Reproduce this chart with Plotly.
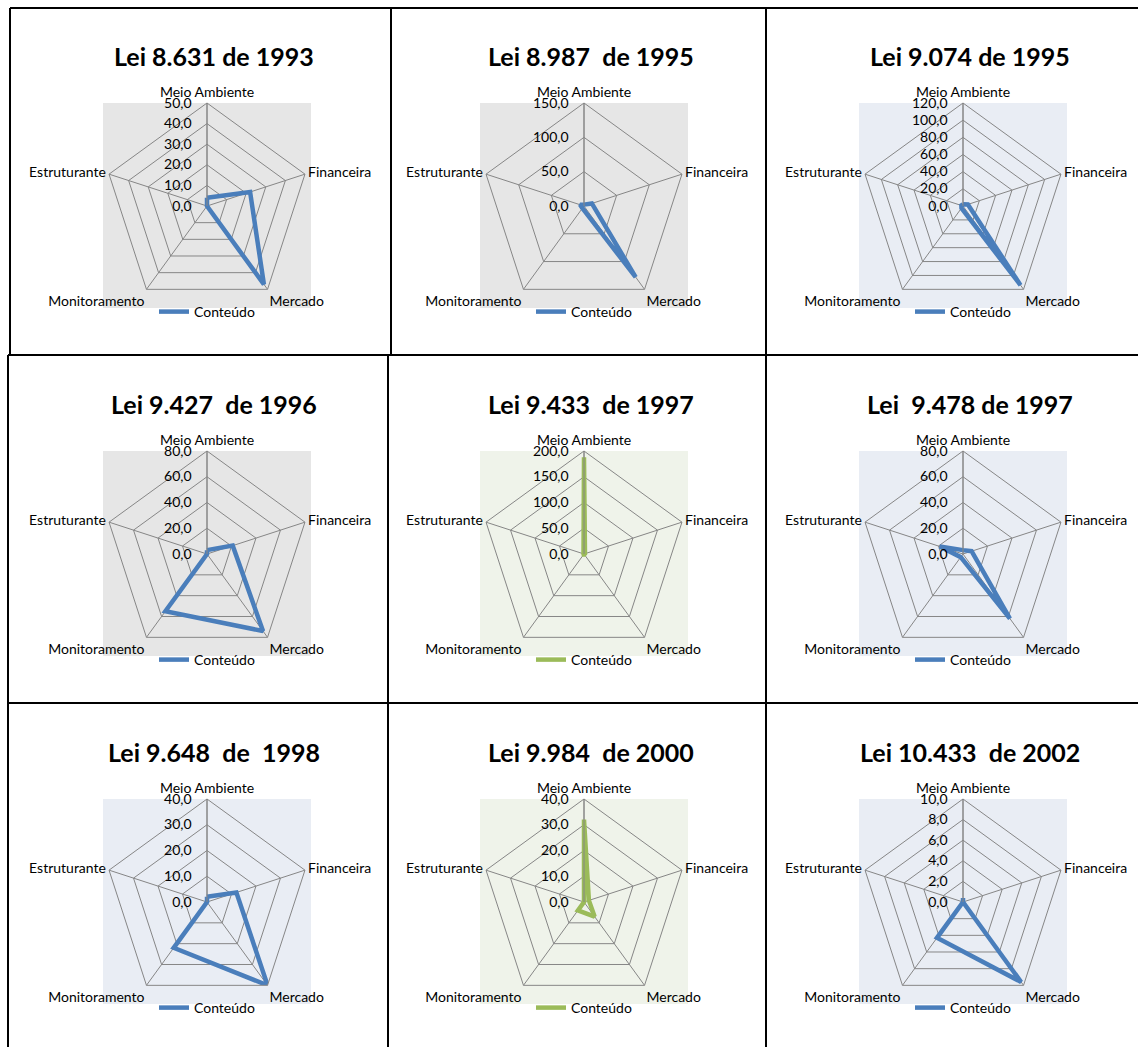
import plotly.graph_objects as go

W, H = 1138, 1047

categories = ["Meio Ambiente", "Financeira", "Mercado", "Monitoramento", "Estruturante"]

titles = [
    "Lei 8.631 de 1993", "Lei 8.987  de 1995", "Lei 9.074 de 1995",
    "Lei 9.427  de 1996", "Lei 9.433  de 1997", "Lei  9.478 de 1997",
    "Lei 9.648  de  1998", "Lei 9.984  de 2000", "Lei 10.433  de 2002",
]

v_8631 = [4, 22, 47, 0, 0]
v_8987 = [2, 12, 128, 4, 6]
v_9074 = [2, 6, 114, 3, 2]
v_9427 = [3, 21, 74, 55, 0]
v_9433 = [188, 2, 1, 1, 1]
v_9478 = [3, 7, 62, 3, 19]
v_9648 = [2, 12, 40, 22, 0]
v_9984 = [32, 2, 7, 4, 0]
v_10433 = [0.4, 0, 9.6, 4.3, 0]
series = [v_8631, v_8987, v_9074, v_9427, v_9433, v_9478, v_9648, v_9984, v_10433]

radial_max = [50, 150, 120, 80, 200, 80, 40, 40, 10]
radial_step = [10, 50, 20, 20, 50, 20, 10, 10, 2]

BLUE = "#4A7EBB"
GREEN = "#9BBB59"
line_colors = [BLUE, BLUE, BLUE, BLUE, GREEN, BLUE, BLUE, GREEN, BLUE]
GRAY_BG = "#E6E6E6"
BLUE_BG = "#E9EDF4"
GREEN_BG = "#EFF3EA"
bg_colors = [GRAY_BG, GRAY_BG, BLUE_BG, GRAY_BG, GREEN_BG, BLUE_BG, BLUE_BG, GREEN_BG, BLUE_BG]

# layout geometry (pixels)
col_cx = [207, 584, 963]
row_cy = [206, 554, 902]
R = 103
title_dx = 7
title_dy = -150
legend_dy = 106

FONT = "Lato"

def px_x(x):
    return x / W

def px_y(y):
    return 1 - y / H

fig = go.Figure()
shapes = []
annotations = []

for i in range(9):
    r, c = divmod(i, 3)
    cx, cy = col_cx[c], row_cy[r]
    pname = "polar" if i == 0 else f"polar{i+1}"
    lname = "legend" if i == 0 else f"legend{i+1}"
    vals = series[i]
    fig.add_trace(go.Scatterpolar(
        r=vals + [vals[0]],
        theta=categories + [categories[0]],
        mode="lines",
        line=dict(color=line_colors[i], width=4.5),
        name="Conteúdo",
        subplot=pname,
        legend=lname,
        showlegend=True,
        hoverinfo="r+theta",
    ))
    fig.layout[pname] = dict(
        domain=dict(x=[px_x(cx - R), px_x(cx + R)], y=[px_y(cy + R), px_y(cy - R)]),
        bgcolor="rgba(0,0,0,0)",
        gridshape="linear",
        angularaxis=dict(
            rotation=90, direction="clockwise",
            showline=True, linecolor="#868686", linewidth=1,
            gridcolor="#868686", gridwidth=1,
            ticks="", tickfont=dict(family=FONT, size=14, color="#000000"),
        ),
        radialaxis=dict(
            range=[0, radial_max[i]], dtick=radial_step[i], tick0=0,
            angle=90, side="counterclockwise",
            showline=True, linecolor="#868686", linewidth=1,
            gridcolor="#868686", gridwidth=1,
            ticks="outside", ticklen=10, tickcolor="rgba(0,0,0,0)",
            tickformat=".1f",
            tickfont=dict(family=FONT, size=14, color="#000000"),
            tickangle=90,
        ),
    )
    fig.layout[lname] = dict(
        x=px_x(cx), xanchor="center",
        y=px_y(cy + legend_dy), yanchor="middle",
        orientation="h", bgcolor="rgba(0,0,0,0)",
        font=dict(family=FONT, size=14, color="#000000"),
        itemwidth=30,
    )
    # plot area background square
    shapes.append(dict(
        type="rect", xref="paper", yref="paper", layer="below",
        x0=px_x(cx - 104), x1=px_x(cx + 104),
        y0=px_y(cy + 102), y1=px_y(cy - 103),
        fillcolor=bg_colors[i], line=dict(width=0),
    ))
    annotations.append(dict(
        text=f"<b>{titles[i]}</b>", xref="paper", yref="paper",
        x=px_x(cx + title_dx), y=px_y(cy + title_dy),
        xanchor="center", yanchor="middle", showarrow=False,
        font=dict(family=FONT, size=25, color="#000000"),
    ))

# panel borders
border_lines = [
    (10, 8, 1138, 8),
    (10, 8, 10, 355),
    (8, 355, 8, 1047),
    (8, 355, 1138, 355),
    (8, 703, 1138, 703),
    (391, 8, 391, 355),
    (388, 355, 388, 1047),
    (766, 8, 766, 1047),
]
for (x0, y0, x1, y1) in border_lines:
    shapes.append(dict(
        type="line", xref="paper", yref="paper",
        x0=px_x(x0), y0=px_y(y0), x1=px_x(x1), y1=px_y(y1),
        line=dict(color="#000000", width=2),
    ))

fig.update_layout(
    width=W, height=H,
    margin=dict(l=0, r=0, t=0, b=0),
    paper_bgcolor="#FFFFFF",
    separators=",.",
    shapes=shapes,
    annotations=annotations,
    font=dict(family=FONT),
)

fig.write_html("out.html")
